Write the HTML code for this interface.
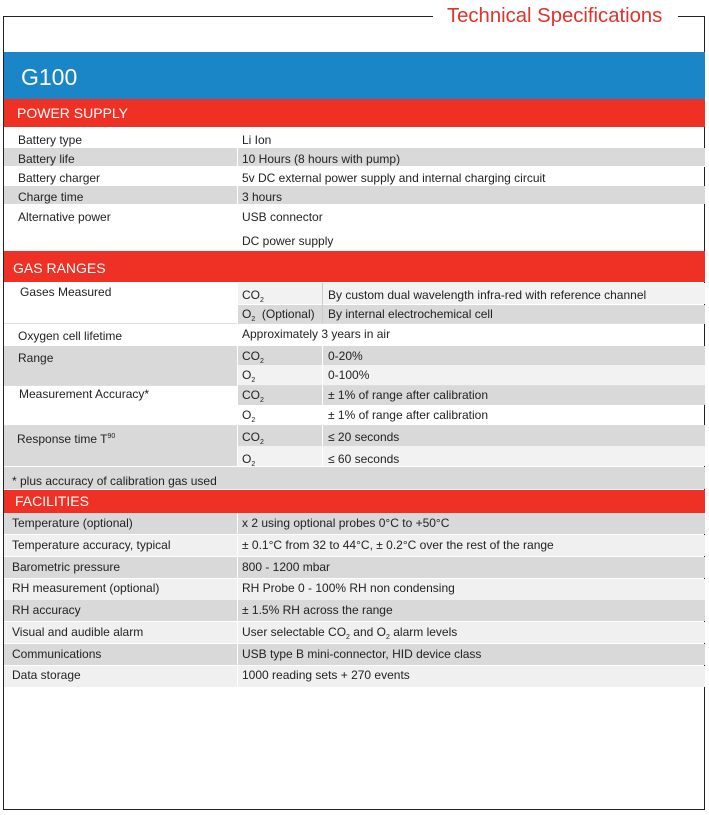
<!DOCTYPE html>
<html><head><meta charset="utf-8"><style>
body{margin:0;width:709px;height:815px;background:#fff;position:relative;font-family:"Liberation Sans",Arial,sans-serif;overflow:hidden}
.a{position:absolute}
.g{background:#d9d9d9}
.w{background:#fff}
.t{position:absolute;font-size:12px;color:#222;white-space:nowrap;line-height:14px}
.h{position:absolute;left:4px;width:701px;background:#ee3124;color:#fff;font-size:14px}
sub{font-size:7px;vertical-align:-3px}
.v{position:absolute;width:1px;background:#fff}
</style></head><body>
<div class="a" style="left:3px;top:16px;width:700px;height:793px;border:1px solid #222;border-top:none"></div>
<div class="a" style="left:3px;top:16px;width:430px;height:1px;background:#222"></div>
<div class="a" style="left:678px;top:16px;width:27px;height:1px;background:#222"></div>
<div class="t" style="left:447px;top:4px;font-size:20.3px;line-height:24px;color:#e0332b">Technical Specifications</div>
<div class="a" style="left:4px;top:52px;width:701px;height:47px;background:#1a86c8"></div>
<div class="t" style="left:21px;top:64px;font-size:23px;line-height:26px;color:#fff">G100</div>
<div class="h" style="top:99px;height:28px"><span class="a" style="left:13px;top:6px">POWER SUPPLY</span></div>

<div class="a g" style="left:4px;top:148px;width:701px;height:18px"></div>
<div class="a g" style="left:4px;top:186px;width:701px;height:18px"></div>
<div class="a" style="left:4px;top:166px;width:701px;height:1px;background:#fff"></div>
<div class="v" style="left:237px;top:130px;height:120px"></div>
<div class="t" style="left:18px;top:133px">Battery type</div><div class="t" style="left:242px;top:133px">Li Ion</div>
<div class="t" style="left:18px;top:152px">Battery life</div><div class="t" style="left:242px;top:152px">10 Hours (8 hours with pump)</div>
<div class="t" style="left:18px;top:171px">Battery charger</div><div class="t" style="left:242px;top:171px">5v DC external power supply and internal charging circuit</div>
<div class="t" style="left:18px;top:190px">Charge time</div><div class="t" style="left:242px;top:190px">3 hours</div>
<div class="t" style="left:18px;top:210px">Alternative power</div><div class="t" style="left:242px;top:210px">USB connector</div>
<div class="t" style="left:242px;top:234px">DC power supply</div>

<div class="h" style="top:251px;height:31px"><span class="a" style="left:9px;top:9px">GAS RANGES</span></div>
<div class="a" style="left:237px;top:283px;width:468px;height:21px;background:#f2f2f2"></div>
<div class="a g" style="left:237px;top:305px;width:468px;height:18px"></div>
<div class="a" style="left:4px;top:323px;width:701px;height:1px;background:#ddd"></div>
<div class="a g" style="left:4px;top:346px;width:701px;height:39px"></div>
<div class="a" style="left:237px;top:365px;width:468px;height:20px;background:#f2f2f2"></div>
<div class="a g" style="left:237px;top:386px;width:468px;height:19px"></div>
<div class="a" style="left:4px;top:385px;width:701px;height:1px;background:#ddd"></div>
<div class="a g" style="left:4px;top:426px;width:701px;height:40px"></div>
<div class="a" style="left:237px;top:446px;width:468px;height:20px;background:#f2f2f2"></div>
<div class="a" style="left:4px;top:425px;width:701px;height:1px;background:#ddd"></div>
<div class="a g" style="left:4px;top:467px;width:701px;height:22px"></div>
<div class="v" style="left:237px;top:283px;height:183px"></div>
<div class="a" style="left:322px;top:283px;width:1px;height:40px;background:#ccc"></div>
<div class="a" style="left:322px;top:346px;width:1px;height:120px;background:#fff"></div>
<div class="t" style="left:20px;top:285px">Gases Measured</div>
<div class="t" style="left:242px;top:288px">CO<sub>2</sub></div><div class="t" style="left:328px;top:288px">By custom dual wavelength infra-red with reference channel</div>
<div class="t" style="left:242px;top:307px">O<sub>2</sub> &nbsp;(Optional)</div><div class="t" style="left:328px;top:307px">By internal electrochemical cell</div>
<div class="t" style="left:18px;top:329px">Oxygen cell lifetime</div><div class="t" style="left:242px;top:327px">Approximately 3 years in air</div>
<div class="t" style="left:18px;top:351px">Range</div>
<div class="t" style="left:242px;top:349px">CO<sub>2</sub></div><div class="t" style="left:328px;top:349px">0-20%</div>
<div class="t" style="left:242px;top:368px">O<sub>2</sub></div><div class="t" style="left:328px;top:368px">0-100%</div>
<div class="t" style="left:19px;top:387px">Measurement Accuracy*</div>
<div class="t" style="left:242px;top:388px">CO<sub>2</sub></div><div class="t" style="left:328px;top:388px">± 1% of range after calibration</div>
<div class="t" style="left:242px;top:408px">O<sub>2</sub></div><div class="t" style="left:328px;top:408px">± 1% of range after calibration</div>
<div class="t" style="left:17px;top:430px">Response time T<sup style="font-size:7px">90</sup></div>
<div class="t" style="left:242px;top:430px">CO<sub>2</sub></div><div class="t" style="left:328px;top:430px">≤ 20 seconds</div>
<div class="t" style="left:242px;top:452px">O<sub>2</sub></div><div class="t" style="left:328px;top:452px">≤ 60 seconds</div>
<div class="t" style="left:12px;top:474px">* plus accuracy of calibration gas used</div>

<div class="h" style="top:490px;height:23px"><span class="a" style="left:11px;top:3px">FACILITIES</span></div>
<div class="a g" style="left:4px;top:513px;width:701px;height:21px"></div>
<div class="a" style="left:4px;top:535px;width:701px;height:21px;background:#f0f0f0"></div>
<div class="a g" style="left:4px;top:557px;width:701px;height:21px"></div>
<div class="a" style="left:4px;top:579px;width:701px;height:21px;background:#f0f0f0"></div>
<div class="a g" style="left:4px;top:600px;width:701px;height:21px"></div>
<div class="a" style="left:4px;top:622px;width:701px;height:21px;background:#f0f0f0"></div>
<div class="a g" style="left:4px;top:644px;width:701px;height:21px"></div>
<div class="a" style="left:4px;top:666px;width:701px;height:21px;background:#f0f0f0"></div>
<div class="v" style="left:237px;top:513px;height:174px"></div>
<div class="t" style="left:12px;top:516px">Temperature (optional)</div><div class="t" style="left:242px;top:516px">x 2 using optional probes 0°C to +50°C</div>
<div class="t" style="left:12px;top:538px">Temperature accuracy, typical</div><div class="t" style="left:242px;top:538px">± 0.1°C from 32 to 44°C, ± 0.2°C over the rest of the range</div>
<div class="t" style="left:12px;top:560px">Barometric pressure</div><div class="t" style="left:242px;top:560px">800 - 1200 mbar</div>
<div class="t" style="left:12px;top:581px">RH measurement (optional)</div><div class="t" style="left:242px;top:581px">RH Probe 0 - 100% RH non condensing</div>
<div class="t" style="left:12px;top:603px">RH accuracy</div><div class="t" style="left:242px;top:603px">± 1.5% RH across the range</div>
<div class="t" style="left:12px;top:625px">Visual and audible alarm</div><div class="t" style="left:242px;top:625px">User selectable CO<sub>2</sub> and O<sub>2</sub> alarm levels</div>
<div class="t" style="left:12px;top:647px">Communications</div><div class="t" style="left:242px;top:647px">USB type B mini-connector, HID device class</div>
<div class="t" style="left:12px;top:668px">Data storage</div><div class="t" style="left:242px;top:668px">1000 reading sets + 270 events</div>
</body></html>
